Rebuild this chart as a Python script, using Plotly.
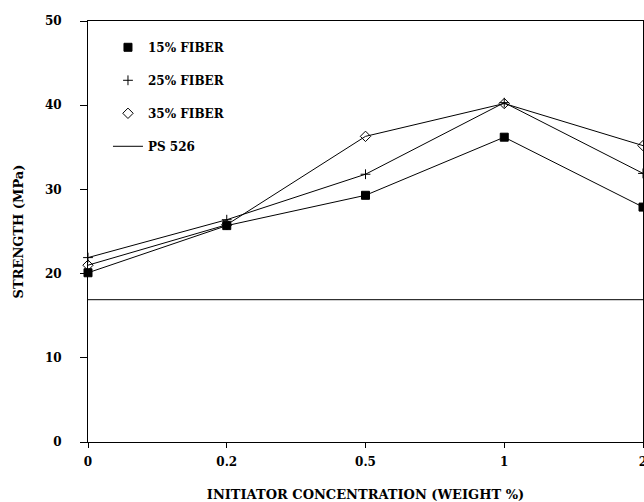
import plotly.graph_objects as go

categories = ["0", "0.2", "0.5", "1", "2"]
fiber15 = [20.1, 25.7, 29.3, 36.2, 27.9]
fiber25 = [21.9, 26.4, 31.8, 40.3, 31.9]
fiber35 = [21.0, 25.8, 36.3, 40.2, 35.2]
ps526 = 16.9
y_ticks = [0, 10, 20, 30, 40, 50]

FONT = "DejaVu Serif"
fig = go.Figure()

series = [
    ("15% FIBER", fiber15, "square", 8, 1),
    ("25% FIBER", fiber25, "cross-thin", 7, 1),
    ("35% FIBER", fiber35, "diamond-open", 8, 1),
]
for name, vals, sym, size, lw in series:
    fig.add_trace(go.Scatter(
        x=categories, y=vals, mode="lines+markers", showlegend=False,
        line=dict(color="black", width=1),
        marker=dict(symbol=sym, size=size, color="black",
                    line=dict(color="black", width=1)),
        cliponaxis=False,
    ))
    fig.add_trace(go.Scatter(
        x=[None], y=[None], mode="markers", name=name, legendgroup=name,
        marker=dict(symbol=sym, size=size, color="black",
                    line=dict(color="black", width=1)),
    ))

fig.add_trace(go.Scatter(
    x=categories, y=[ps526] * len(categories), mode="lines", name="PS 526",
    legendgroup="PS 526", line=dict(color="black", width=1),
))

fig.update_layout(
    width=644, height=502,
    margin=dict(l=88, r=1, t=21, b=60),
    paper_bgcolor="white", plot_bgcolor="white",
    font=dict(family=FONT, size=13, color="black", weight="bold"),
    legend=dict(x=0.036, y=0.972, xanchor="left", yanchor="top",
                bgcolor="rgba(0,0,0,0)", tracegroupgap=14,
                font=dict(family=FONT, size=12, color="black", weight="bold")),
    xaxis=dict(
        type="category", range=[0, 4], showgrid=False, zeroline=False,
        showline=True, linecolor="black", linewidth=1, mirror=True,
        ticks="outside", ticklen=5, tickcolor="black", automargin=False,
        ticklabelstandoff=4,
        tickfont=dict(family=FONT, size=12, weight="bold"),
        title=dict(text="INITIATOR CONCENTRATION (WEIGHT %)", standoff=23,
                   font=dict(family=FONT, size=13, weight="bold")),
    ),
    yaxis=dict(
        range=[0, 50], tickvals=y_ticks, showgrid=False, zeroline=False,
        showline=True, linecolor="black", linewidth=1, mirror=True,
        ticks="outside", ticklen=7, tickcolor="black", automargin=False,
        ticklabelstandoff=16,
        tickfont=dict(family=FONT, size=12, weight="bold"),
        title=dict(text="STRENGTH (MPa)", standoff=18,
                   font=dict(family=FONT, size=13, weight="bold")),
    ),
)

fig.write_html("out.html", config={"displayModeBar": False},
               post_script="document.body.style.margin='0';")
